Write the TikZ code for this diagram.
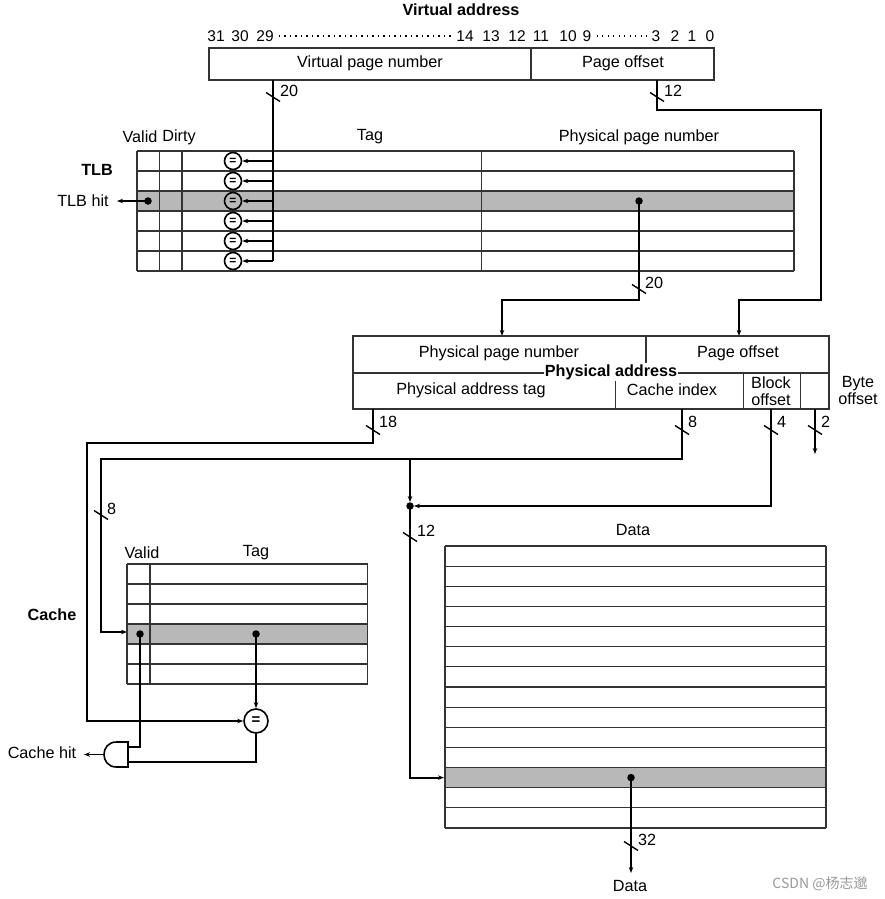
\documentclass[tikz,border=0pt]{standalone}
\usepackage{fontspec}
\setmainfont{Liberation Sans}
\newfontfamily\cjk{Noto Sans CJK SC}
\usetikzlibrary{arrows.meta}
\begin{document}
\begin{tikzpicture}[x=1pt,y=-1pt,
  txt/.style={font=\fontsize{16.2}{18}\selectfont, inner sep=0pt},
  bittxt/.style={font=\fontsize{15.5}{17}\selectfont, inner sep=0pt},
  btxt/.style={font=\fontsize{16.2}{18}\selectfont\bfseries, inner sep=0pt},
  gridline/.style={line width=1.1pt, draw=black!80},
  wire/.style={line width=1.9pt},
  arr/.style={wire, -{Stealth[length=6pt,width=4.5pt]}},
  dotn/.style={circle, fill=black, inner sep=0pt, minimum size=7.5pt},
  eqc/.style={circle, draw, line width=1.6pt, inner sep=0pt, minimum size=17pt, font=\fontsize{12}{12}\selectfont\bfseries},
  shadefill/.style={fill=black!28},
  dotline/.style={line width=1.3pt, dash pattern=on 1.2pt off 4.3pt},
  busmark/.pic={\draw[line width=1.4pt] (-7,-4.5) -- (7,4.5);}
]
\useasboundingbox (0,0) rectangle (885,899);

% ---------------- Virtual address ----------------
\node[btxt] (vatitle) at (461,10) {Virtual address};
\foreach \b/\x in {31/216,30/240,29/265,14/465,13/491,12/517,11/541,10/568,9/587,3/656,2/675,1/692,0/710}
  \node[bittxt] (bit\b) at (\x,36) {\b};
\draw[dotline] ([xshift=5pt]bit29.east) -- ([xshift=-4pt]bit14.west);
\draw[dotline] ([xshift=5pt]bit9.east) -- ([xshift=-4pt]bit3.west);

\draw[gridline] (209,48) rectangle (714,80);
\draw[gridline] (531,48) -- (531,80);
\node[txt] (vpn) at (370,63) {Virtual page number};
\node[txt] (vpo) at (623,63) {Page offset};
\coordinate (vpnout) at (273,80);
\coordinate (vpoout) at (657,80);

% ---------------- TLB ----------------
\node[txt] (tlbvalid) at (140,137) {Valid};
\node[txt] (tlbdirty) at (179,137) {Dirty};
\node[txt] (tlbtag) at (370,137) {Tag};
\node[txt] (tlbppn) at (639,137) {Physical page number};
\node[btxt] (tlblabel) at (97,170) {TLB};
\node[txt] (tlbhit) at (83,201) {TLB hit};

\fill[shadefill] (137,191) rectangle (794,211);
\foreach \y in {151,171,...,271} \draw[gridline] (137,\y) -- (794,\y);
\foreach \x in {137,159.5,182,481.5,794} \draw[gridline] (\x,151) -- (\x,271);

\coordinate (vpnend) at (273,261);
\draw[wire] (vpnout) -- (vpnend);
\pic at (273,97) {busmark};
\node[txt, anchor=west] (l20a) at (280,91) {20};
\foreach \i/\y in {1/161,2/181,3/201,4/221,5/241,6/261} {
  \node[eqc] (teq\i) at (233,\y) {=};
  \coordinate (tap\i) at (273,\y);
  \draw[arr] (tap\i) -- (teq\i);
}
\node[dotn] (tlbvd) at (148,201) {};
\coordinate (tlbhittip) at (117,201);
\draw[arr] (tlbvd.center) -- (tlbhittip);

% PPN -> physical address
\node[dotn] (ppnd) at (639,201) {};
\coordinate (ppnc1) at (639,300);
\coordinate (ppnc2) at (502,300);
\coordinate (pappn) at (502,336);
\draw[arr] (ppnd.center) -- (ppnc1) -- (ppnc2) -- (pappn);
\pic at (639,289) {busmark};
\node[txt, anchor=west] (l20b) at (645,283) {20};

% page offset -> physical address
\coordinate (poc1) at (657,110);
\coordinate (poc2) at (821,110);
\coordinate (poc3) at (821,300);
\coordinate (poc4) at (739,300);
\coordinate (papo) at (739,336);
\draw[arr] (vpoout) -- (poc1) -- (poc2) -- (poc3) -- (poc4) -- (papo);
\pic at (657,97) {busmark};
\node[txt, anchor=west] (l12a) at (664,91) {12};

% ---------------- Physical address ----------------
\draw[gridline] (353,336) rectangle (829,409);
\draw[gridline] (353,373) -- (829,373);
\draw[gridline] (646,336) -- (646,373);
\foreach \x in {615.5,743.5,800.5} \draw[gridline] (\x,373) -- (\x,409);
\node[txt] (pappnt) at (499,353) {Physical page number};
\node[txt] (papot) at (738,353) {Page offset};
\node[btxt, fill=white, inner xsep=1pt, inner ysep=1pt] (patitle) at (611,372) {Physical address};
\node[txt] (patag) at (471,390) {Physical address tag};
\node[txt] (paidx) at (672,390) {Cache index};
\node[txt, align=center] (pablk) at (771,391) {Block\\[-1pt]offset};
\node[txt, align=center] (pabyte) at (858,391) {Byte\\[-1pt]offset};

% 18-bit tag
\coordinate (tagout) at (373,409);
\coordinate (tagc1) at (373,443);
\coordinate (tagc2) at (87,443);
\coordinate (tagc3) at (87,721);
\pic at (373,430) {busmark};
\node[txt, anchor=west] (l18) at (379,422) {18};

% 8-bit index
\coordinate (idxout) at (682,409);
\coordinate (idxc1) at (682,459);
\coordinate (idxc2) at (101,459);
\coordinate (idxc3) at (101,632);
\coordinate (cacherow) at (127,632);
\coordinate (idxbr) at (410,459);
\draw[arr] (idxout) -- (idxc1) -- (idxc2) -- (idxc3) -- (cacherow);
\pic at (682,430) {busmark};
\node[txt, anchor=west] (l8a) at (688,422) {8};
\pic at (101,515) {busmark};
\node[txt, anchor=west] (l8b) at (107,509) {8};

% junction
\node[dotn] (jd) at (410,506) {};
\draw[arr] (idxbr) -- (jd.north);

% 4-bit block offset
\coordinate (blkout) at (771,409);
\coordinate (blkc1) at (771,506);
\draw[arr] (blkout) -- (blkc1) -- (jd.east);
\pic at (771,430) {busmark};
\node[txt, anchor=west] (l4) at (777,422) {4};

% 2-bit byte offset
\coordinate (byteout) at (815,409);
\coordinate (byteend) at (815,454);
\draw[arr] (byteout) -- (byteend);
\pic at (815,430) {busmark};
\node[txt, anchor=west] (l2) at (821,422) {2};

% 12-bit to data
\coordinate (dc1) at (410,777.6);
\coordinate (datarow) at (444,777.6);
\draw[arr] (jd.center) -- (dc1) -- (datarow);
\pic at (410,537) {busmark};
\node[txt, anchor=west] (l12b) at (417,531) {12};

% ---------------- Cache ----------------
\node[btxt] (cachelabel) at (52,615) {Cache};
\node[txt] (cvalid) at (142,553) {Valid};
\node[txt] (ctag) at (256,553) {Tag};
\fill[shadefill] (127,624) rectangle (367.5,644);
\foreach \y in {564,584,...,684} \draw[gridline] (127,\y) -- (367.5,\y);
\foreach \x in {127,150,367.5} \draw[gridline] (\x,564) -- (\x,684);

\node[dotn] (cvd) at (140,634) {};
\node[dotn] (ctd) at (256,634) {};
\node[eqc, minimum size=24pt, font=\fontsize{15}{15}\selectfont\bfseries] (ceq) at (256,721) {=};
\draw[arr] (ctd.center) -- (ceq.north);
\draw[arr] (tagout) -- (tagc1) -- (tagc2) -- (tagc3) -- (ceq.west);

% AND gate
\draw[line width=1.6pt] (128,742) -- (116.5,742) .. controls (99.8,742) and (99.8,767) .. (116.5,767) -- (128,767) -- cycle;
\coordinate (andin1) at (128,747);
\coordinate (andin2) at (128,762);
\coordinate (andout) at (104,754.5);
\coordinate (cvc) at (140,747);
\coordinate (ceqc) at (256,762);
\draw[wire] (cvd.center) -- (cvc) -- (andin1);
\draw[wire] (ceq.south) -- (ceqc) -- (andin2);
\node[txt] (cachehit) at (42,753) {Cache hit};
\coordinate (hittip) at (84,754.5);
\draw[arr] (andout) -- (hittip);

% ---------------- Data ----------------
\node[txt] (datatitle) at (633,530) {Data};
\fill[shadefill] (445,767.6) rectangle (826,787.7);
\foreach \k in {0,...,14} \draw[gridline] (445,546+20.143*\k) -- (826,546+20.143*\k);
\draw[gridline] (445,546) -- (445,828);
\draw[gridline] (826,546) -- (826,828);
\node[dotn] (dd) at (631,777.6) {};
\coordinate (dataend) at (631,873);
\draw[arr] (dd.center) -- (dataend);
\pic at (631,846) {busmark};
\node[txt, anchor=west] (l32) at (638,840) {32};
\node[txt] (dataout) at (630,886) {Data};

\node[font=\cjk\fontsize{14}{16}\selectfont, text=black!40, inner sep=0pt] (wm) at (820,884) {CSDN @杨志邈};
\end{tikzpicture}
\end{document}
